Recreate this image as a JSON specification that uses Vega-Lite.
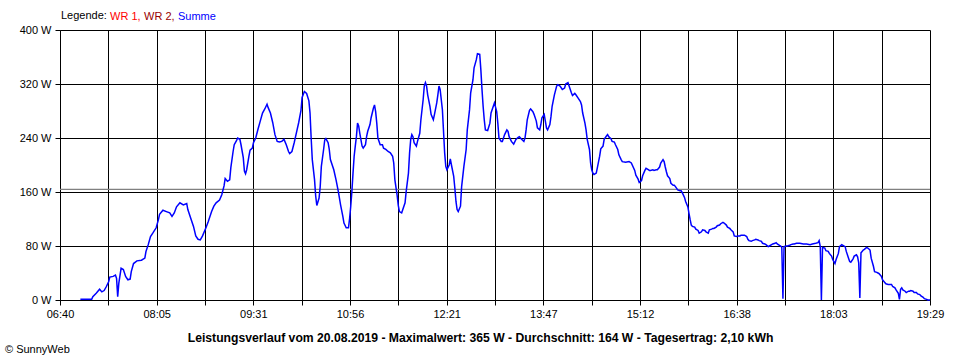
{
  "$schema": "https://vega.github.io/schema/vega-lite/v6.json",
  "width": 870,
  "height": 270,
  "autosize": "none",
  "padding": {"left": 60, "top": 30, "right": 30, "bottom": 60},
  "background": "white",
  "title": {"text": "© SunnyWeb", "orient": "bottom", "anchor": "start", "frame": "group", "font": "Liberation Sans", "fontSize": 11, "fontWeight": "normal", "color": "black", "dx": -55, "offset": 1},
  "config": {
    "view": {"stroke": null},
    "axis": {"labelFont": "Liberation Sans", "labelFontSize": 11, "labelColor": "black", "domainColor": "black", "tickColor": "black", "gridColor": "black", "gridOpacity": 1, "gridWidth": 1, "domainWidth": 1, "tickWidth": 1, "tickSize": 5}
  },
  "layer": [
    {
      "data": {"values": [{"avg": 164}]},
      "mark": {"type": "rule", "color": "#808080", "strokeWidth": 1.2},
      "encoding": {"y": {"field": "avg", "type": "quantitative", "scale": {"domain": [0, 400], "nice": false}}}
    },
    {
      "data": {
        "format": {"parse": {"t": "date:'%H:%M'"}},
        "values": [
          {"t":"06:58","w":1},{"t":"07:08","w":1},{"t":"07:09","w":5},{"t":"07:12","w":10},{"t":"07:15","w":16},{"t":"07:17","w":12},{"t":"07:19","w":14},{"t":"07:21","w":20},{"t":"07:23","w":27},{"t":"07:24","w":34},{"t":"07:27","w":35},{"t":"07:29","w":37},{"t":"07:30","w":32},{"t":"07:31","w":5},{"t":"07:32","w":25},{"t":"07:34","w":47},{"t":"07:36","w":45},{"t":"07:38","w":35},{"t":"07:40","w":30},{"t":"07:42","w":31},{"t":"07:43","w":42},{"t":"07:45","w":54},{"t":"07:48","w":58},{"t":"07:52","w":59},{"t":"07:55","w":62},{"t":"07:56","w":72},{"t":"07:58","w":82},{"t":"08:00","w":94},{"t":"08:02","w":99},{"t":"08:05","w":107},{"t":"08:07","w":119},{"t":"08:08","w":127},{"t":"08:11","w":133},{"t":"08:14","w":131},{"t":"08:17","w":129},{"t":"08:19","w":124},{"t":"08:21","w":129},{"t":"08:23","w":138},{"t":"08:26","w":144},{"t":"08:29","w":141},{"t":"08:32","w":143},{"t":"08:33","w":134},{"t":"08:36","w":119},{"t":"08:38","w":109},{"t":"08:40","w":95},{"t":"08:42","w":90},{"t":"08:44","w":89},{"t":"08:46","w":95},{"t":"08:49","w":107},{"t":"08:51","w":116},{"t":"08:54","w":131},{"t":"08:56","w":139},{"t":"08:58","w":144},
          {"t":"09:01","w":148},{"t":"09:03","w":156},{"t":"09:05","w":169},{"t":"09:06","w":180},{"t":"09:08","w":176},{"t":"09:10","w":178},{"t":"09:11","w":196},{"t":"09:13","w":220},{"t":"09:14","w":230},{"t":"09:16","w":236},{"t":"09:17","w":240},{"t":"09:19","w":238},{"t":"09:20","w":230},{"t":"09:22","w":211},{"t":"09:23","w":191},{"t":"09:24","w":187},{"t":"09:25","w":193},{"t":"09:27","w":213},{"t":"09:28","w":222},{"t":"09:30","w":225},{"t":"09:31","w":233},{"t":"09:33","w":240},{"t":"09:35","w":253},{"t":"09:37","w":265},{"t":"09:39","w":277},{"t":"09:41","w":283},{"t":"09:43","w":290},{"t":"09:44","w":285},{"t":"09:46","w":277},{"t":"09:48","w":263},{"t":"09:50","w":245},{"t":"09:52","w":235},{"t":"09:54","w":234},{"t":"09:56","w":235},{"t":"09:58","w":238},
          {"t":"10:00","w":230},{"t":"10:02","w":220},{"t":"10:03","w":217},{"t":"10:05","w":220},{"t":"10:07","w":233},{"t":"10:09","w":248},{"t":"10:11","w":263},{"t":"10:13","w":281},{"t":"10:14","w":300},{"t":"10:16","w":309},{"t":"10:18","w":306},{"t":"10:20","w":295},{"t":"10:21","w":277},{"t":"10:22","w":240},{"t":"10:23","w":208},{"t":"10:25","w":178},{"t":"10:26","w":154},{"t":"10:27","w":140},{"t":"10:29","w":151},{"t":"10:30","w":168},{"t":"10:31","w":198},{"t":"10:33","w":223},{"t":"10:34","w":237},{"t":"10:35","w":239},{"t":"10:37","w":233},{"t":"10:38","w":223},{"t":"10:39","w":208},{"t":"10:42","w":193},{"t":"10:44","w":178},{"t":"10:46","w":161},{"t":"10:48","w":141},{"t":"10:50","w":124},{"t":"10:51","w":114},{"t":"10:53","w":107},{"t":"10:55","w":107},{"t":"10:56","w":121},{"t":"10:57","w":139},{"t":"10:58","w":161},{"t":"10:59","w":188},
          {"t":"11:00","w":213},{"t":"11:01","w":228},{"t":"11:02","w":242},{"t":"11:03","w":262},{"t":"11:04","w":258},{"t":"11:05","w":247},{"t":"11:07","w":228},{"t":"11:08","w":225},{"t":"11:10","w":230},{"t":"11:11","w":242},{"t":"11:12","w":250},{"t":"11:14","w":260},{"t":"11:15","w":270},{"t":"11:17","w":284},{"t":"11:18","w":289},{"t":"11:19","w":279},{"t":"11:20","w":262},{"t":"11:21","w":240},{"t":"11:23","w":230},{"t":"11:25","w":230},{"t":"11:26","w":225},{"t":"11:28","w":223},{"t":"11:30","w":220},{"t":"11:32","w":218},{"t":"11:34","w":213},{"t":"11:35","w":203},{"t":"11:36","w":178},{"t":"11:38","w":155},{"t":"11:39","w":140},{"t":"11:40","w":131},{"t":"11:42","w":129},{"t":"11:43","w":134},{"t":"11:45","w":144},{"t":"11:46","w":161},{"t":"11:48","w":188},{"t":"11:49","w":218},{"t":"11:50","w":238},{"t":"11:51","w":245},{"t":"11:52","w":242},{"t":"11:53","w":233},{"t":"11:55","w":228},{"t":"11:56","w":235},{"t":"11:58","w":247},{"t":"11:59","w":267},
          {"t":"12:01","w":297},{"t":"12:02","w":317},{"t":"12:03","w":322},{"t":"12:04","w":317},{"t":"12:05","w":304},{"t":"12:07","w":287},{"t":"12:08","w":275},{"t":"12:10","w":267},{"t":"12:11","w":275},{"t":"12:13","w":292},{"t":"12:14","w":304},{"t":"12:15","w":317},{"t":"12:16","w":312},{"t":"12:18","w":282},{"t":"12:20","w":218},{"t":"12:21","w":198},{"t":"12:22","w":193},{"t":"12:24","w":200},{"t":"12:25","w":209},{"t":"12:26","w":200},{"t":"12:28","w":183},{"t":"12:29","w":166},{"t":"12:30","w":146},{"t":"12:31","w":134},{"t":"12:32","w":131},{"t":"12:34","w":139},{"t":"12:35","w":168},{"t":"12:37","w":198},{"t":"12:39","w":223},{"t":"12:40","w":252},{"t":"12:42","w":282},{"t":"12:43","w":307},{"t":"12:45","w":326},{"t":"12:46","w":344},{"t":"12:48","w":356},{"t":"12:49","w":365},{"t":"12:51","w":364},{"t":"12:52","w":341},{"t":"12:53","w":312},{"t":"12:54","w":287},{"t":"12:55","w":267},{"t":"12:56","w":252},{"t":"12:58","w":251},
          {"t":"13:00","w":262},{"t":"13:01","w":277},{"t":"13:03","w":287},{"t":"13:04","w":292},{"t":"13:06","w":279},{"t":"13:07","w":262},{"t":"13:08","w":240},{"t":"13:10","w":235},{"t":"13:11","w":235},{"t":"13:13","w":245},{"t":"13:15","w":252},{"t":"13:16","w":250},{"t":"13:17","w":242},{"t":"13:19","w":235},{"t":"13:21","w":231},{"t":"13:23","w":238},{"t":"13:25","w":241},{"t":"13:26","w":242},{"t":"13:28","w":238},{"t":"13:30","w":235},{"t":"13:31","w":240},{"t":"13:32","w":252},{"t":"13:33","w":267},{"t":"13:35","w":281},{"t":"13:36","w":283},{"t":"13:38","w":279},{"t":"13:39","w":275},{"t":"13:41","w":265},{"t":"13:42","w":255},{"t":"13:44","w":252},{"t":"13:45","w":260},{"t":"13:46","w":270},{"t":"13:48","w":275},{"t":"13:49","w":265},{"t":"13:50","w":255},{"t":"13:51","w":252},{"t":"13:53","w":260},{"t":"13:54","w":272},{"t":"13:55","w":287},{"t":"13:57","w":304},{"t":"13:59","w":317},
          {"t":"14:00","w":319},{"t":"14:02","w":317},{"t":"14:04","w":312},{"t":"14:06","w":314},{"t":"14:07","w":320},{"t":"14:09","w":322},{"t":"14:10","w":317},{"t":"14:12","w":307},{"t":"14:13","w":303},{"t":"14:15","w":306},{"t":"14:16","w":304},{"t":"14:18","w":299},{"t":"14:20","w":294},{"t":"14:21","w":289},{"t":"14:22","w":277},{"t":"14:24","w":262},{"t":"14:25","w":252},{"t":"14:26","w":238},{"t":"14:28","w":223},{"t":"14:29","w":203},{"t":"14:30","w":193},{"t":"14:31","w":188},{"t":"14:32","w":186},{"t":"14:34","w":188},{"t":"14:35","w":196},{"t":"14:37","w":213},{"t":"14:38","w":224},{"t":"14:40","w":228},{"t":"14:41","w":238},{"t":"14:43","w":243},{"t":"14:44","w":245},{"t":"14:45","w":242},{"t":"14:47","w":239},{"t":"14:48","w":235},{"t":"14:50","w":234},{"t":"14:51","w":230},{"t":"14:53","w":223},{"t":"14:54","w":215},{"t":"14:56","w":208},{"t":"14:57","w":205},
          {"t":"15:00","w":204},{"t":"15:03","w":205},{"t":"15:05","w":203},{"t":"15:08","w":192},{"t":"15:09","w":185},{"t":"15:11","w":179},{"t":"15:12","w":174},{"t":"15:14","w":177},{"t":"15:15","w":184},{"t":"15:17","w":192},{"t":"15:18","w":195},{"t":"15:20","w":193},{"t":"15:21","w":192},{"t":"15:22","w":192},{"t":"15:24","w":193},{"t":"15:25","w":192},{"t":"15:27","w":193},{"t":"15:28","w":193},{"t":"15:30","w":197},{"t":"15:31","w":203},{"t":"15:33","w":208},{"t":"15:34","w":205},{"t":"15:35","w":197},{"t":"15:36","w":190},{"t":"15:37","w":184},{"t":"15:39","w":180},{"t":"15:40","w":173},{"t":"15:42","w":170},{"t":"15:43","w":170},{"t":"15:44","w":168},{"t":"15:46","w":163},{"t":"15:48","w":162},{"t":"15:49","w":162},{"t":"15:50","w":159},{"t":"15:52","w":152},{"t":"15:53","w":146},{"t":"15:55","w":138},{"t":"15:56","w":128},{"t":"15:57","w":119},{"t":"15:58","w":111},{"t":"15:59","w":109},
          {"t":"16:01","w":108},{"t":"16:02","w":105},{"t":"16:04","w":103},{"t":"16:05","w":99},{"t":"16:07","w":101},{"t":"16:08","w":104},{"t":"16:10","w":103},{"t":"16:11","w":101},{"t":"16:13","w":99},{"t":"16:14","w":104},{"t":"16:16","w":105},{"t":"16:17","w":106},{"t":"16:18","w":106},{"t":"16:20","w":108},{"t":"16:21","w":110},{"t":"16:23","w":111},{"t":"16:24","w":113},{"t":"16:26","w":115},{"t":"16:27","w":114},{"t":"16:29","w":111},{"t":"16:30","w":108},{"t":"16:32","w":106},{"t":"16:33","w":104},{"t":"16:35","w":101},{"t":"16:36","w":95},{"t":"16:38","w":94},{"t":"16:39","w":95},{"t":"16:41","w":95},{"t":"16:42","w":96},{"t":"16:44","w":96},{"t":"16:45","w":96},{"t":"16:47","w":94},{"t":"16:48","w":90},{"t":"16:49","w":88},{"t":"16:51","w":87},{"t":"16:52","w":88},{"t":"16:54","w":89},{"t":"16:55","w":90},{"t":"16:57","w":89},{"t":"16:58","w":88},
          {"t":"17:00","w":87},{"t":"17:01","w":84},{"t":"17:03","w":83},{"t":"17:04","w":82},{"t":"17:06","w":79},{"t":"17:07","w":80},{"t":"17:09","w":82},{"t":"17:10","w":83},{"t":"17:12","w":84},{"t":"17:13","w":85},{"t":"17:14","w":83},{"t":"17:16","w":81},{"t":"17:17","w":80},{"t":"17:18","w":78},{"t":"17:19","w":2},{"t":"17:20","w":79},{"t":"17:22","w":80},{"t":"17:23","w":80},{"t":"17:25","w":81},{"t":"17:26","w":82},{"t":"17:28","w":83},{"t":"17:29","w":83},{"t":"17:31","w":84},{"t":"17:34","w":84},{"t":"17:37","w":83},{"t":"17:40","w":83},{"t":"17:43","w":82},{"t":"17:45","w":83},{"t":"17:48","w":84},{"t":"17:50","w":85},{"t":"17:51","w":88},{"t":"17:52","w":79},{"t":"17:53","w":0},{"t":"17:54","w":78},{"t":"17:56","w":77},{"t":"17:57","w":73},{"t":"17:59","w":72},
          {"t":"18:00","w":69},{"t":"18:02","w":65},{"t":"18:03","w":60},{"t":"18:05","w":54},{"t":"18:06","w":60},{"t":"18:08","w":69},{"t":"18:09","w":79},{"t":"18:11","w":82},{"t":"18:12","w":81},{"t":"18:14","w":79},{"t":"18:15","w":72},{"t":"18:17","w":62},{"t":"18:18","w":57},{"t":"18:19","w":56},{"t":"18:21","w":61},{"t":"18:22","w":65},{"t":"18:24","w":67},{"t":"18:25","w":64},{"t":"18:26","w":55},{"t":"18:27","w":3},{"t":"18:28","w":70},{"t":"18:29","w":72},{"t":"18:30","w":74},{"t":"18:31","w":75},{"t":"18:33","w":78},{"t":"18:34","w":77},{"t":"18:36","w":74},{"t":"18:37","w":62},{"t":"18:39","w":50},{"t":"18:40","w":42},{"t":"18:42","w":41},{"t":"18:43","w":40},{"t":"18:44","w":39},{"t":"18:46","w":35},{"t":"18:47","w":30},{"t":"18:49","w":26},{"t":"18:50","w":24},{"t":"18:52","w":23},{"t":"18:53","w":23},{"t":"18:55","w":23},{"t":"18:56","w":20},{"t":"18:58","w":18},{"t":"18:59","w":15},
          {"t":"19:01","w":10},{"t":"19:02","w":1},{"t":"19:03","w":16},{"t":"19:04","w":18},{"t":"19:05","w":15},{"t":"19:07","w":13},{"t":"19:08","w":11},{"t":"19:10","w":13},{"t":"19:11","w":13},{"t":"19:12","w":14},{"t":"19:14","w":13},{"t":"19:15","w":11},{"t":"19:17","w":11},{"t":"19:18","w":9},{"t":"19:20","w":8},{"t":"19:21","w":6},{"t":"19:23","w":4},{"t":"19:24","w":2},{"t":"19:26","w":1},{"t":"19:27","w":0},{"t":"19:29","w":0}
        ]
      },
      "mark": {"type": "line", "strokeWidth": 1.5, "interpolate": "linear"},
      "encoding": {
        "x": {
          "field": "t", "type": "temporal",
          "scale": {"domain": [{"year":1900,"month":1,"date":1,"hours":6,"minutes":40},{"year":1900,"month":1,"date":1,"hours":19,"minutes":29}], "nice": false},
          "axis": {
            "values": [
              {"year":1900,"month":1,"date":1,"hours":6,"minutes":40},
              {"year":1900,"month":1,"date":1,"hours":7,"minutes":22,"seconds":43,"milliseconds":333},
              {"year":1900,"month":1,"date":1,"hours":8,"minutes":5,"seconds":26,"milliseconds":667},
              {"year":1900,"month":1,"date":1,"hours":8,"minutes":48,"seconds":10},
              {"year":1900,"month":1,"date":1,"hours":9,"minutes":30,"seconds":53,"milliseconds":333},
              {"year":1900,"month":1,"date":1,"hours":10,"minutes":13,"seconds":36,"milliseconds":667},
              {"year":1900,"month":1,"date":1,"hours":10,"minutes":56,"seconds":20},
              {"year":1900,"month":1,"date":1,"hours":11,"minutes":39,"seconds":3,"milliseconds":333},
              {"year":1900,"month":1,"date":1,"hours":12,"minutes":21,"seconds":46,"milliseconds":667},
              {"year":1900,"month":1,"date":1,"hours":13,"minutes":4,"seconds":30},
              {"year":1900,"month":1,"date":1,"hours":13,"minutes":47,"seconds":13,"milliseconds":333},
              {"year":1900,"month":1,"date":1,"hours":14,"minutes":29,"seconds":56,"milliseconds":667},
              {"year":1900,"month":1,"date":1,"hours":15,"minutes":12,"seconds":40},
              {"year":1900,"month":1,"date":1,"hours":15,"minutes":55,"seconds":23,"milliseconds":333},
              {"year":1900,"month":1,"date":1,"hours":16,"minutes":38,"seconds":6,"milliseconds":667},
              {"year":1900,"month":1,"date":1,"hours":17,"minutes":20,"seconds":50},
              {"year":1900,"month":1,"date":1,"hours":18,"minutes":3,"seconds":33,"milliseconds":333},
              {"year":1900,"month":1,"date":1,"hours":18,"minutes":46,"seconds":16,"milliseconds":667},
              {"year":1900,"month":1,"date":1,"hours":19,"minutes":29}
            ],
            "labelExpr": "['06:40','','08:05','','09:31','','10:56','','12:21','','13:47','','15:12','','16:38','','18:03','','19:29'][round((datum.value - datetime(1900,0,1,6,40))/2563333.333)]",
            "labelOverlap": false,
            "labelFlush": false,
            "labelPadding": 3,
            "grid": true,
            "title": "Leistungsverlauf vom 20.08.2019 - Maximalwert: 365 W - Durchschnitt: 164 W - Tagesertrag: 2,10 kWh",
            "titleFont": "Liberation Sans",
            "titleFontSize": 12.2,
            "titleFontWeight": "bold",
            "titleColor": "black",
            "titleX": 420,
            "titleY": 41,
            "titleAlign": "center",
            "titleBaseline": "alphabetic"
          }
        },
        "y": {
          "field": "w", "type": "quantitative",
          "scale": {"domain": [0, 400], "nice": false},
          "axis": {"values": [0, 80, 160, 240, 320, 400], "labelExpr": "datum.value + ' W'", "grid": true, "title": null, "labelPadding": 4}
        },
        "color": {
          "datum": "Summe", "type": "nominal",
          "scale": {"domain": ["WR 1", "WR 2", "Summe"], "range": ["#FF0000", "#990000", "#0000FF"]},
          "legend": {
            "title": "Legende:", "orient": "none", "legendX": 1, "legendY": -19, "direction": "horizontal",
            "titleOrient": "left", "titleFont": "Liberation Sans", "titleFontSize": 11, "titleFontWeight": "normal", "titleColor": "black", "titlePadding": 3,
            "labelFont": "Liberation Sans", "labelFontSize": 11, "labelOffset": -11, "columnPadding": 3, "padding": 0,
            "symbolSize": 0, "symbolOpacity": 0, "symbolStrokeWidth": 0,
            "labelExpr": "datum.value == 'Summe' ? datum.label : datum.label + ','",
            "encode": {"labels": {"update": {"fill": {"scale": "color", "field": "value"}}}}
          }
        }
      }
    }
  ]
}
